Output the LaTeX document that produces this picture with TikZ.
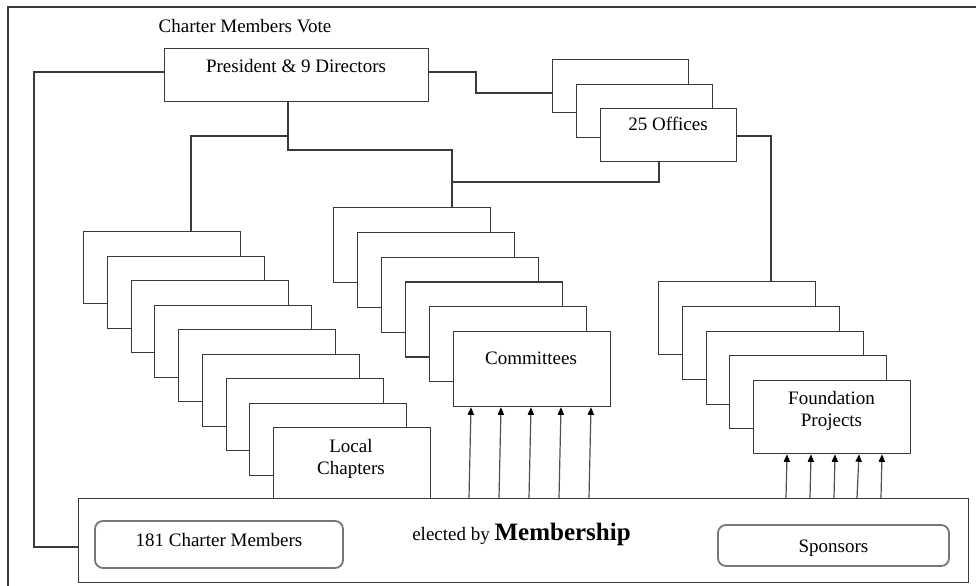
\documentclass[tikz,border=0pt]{standalone}
\usepackage{fontspec}
\setmainfont{Liberation Serif}
\usetikzlibrary{arrows.meta}
\definecolor{linec}{HTML}{3A3A3A}
\definecolor{arrc}{HTML}{505050}
\definecolor{roundc}{HTML}{777777}
\begin{document}
\begin{tikzpicture}[x=0.5pt,y=-0.5pt,line width=0.6pt,
  conn/.style={draw=linec},
  anybox/.style={draw=linec,fill=white,anchor=north west,inner sep=0pt},
  presbox/.style={anybox,minimum width=132pt,minimum height=26.5pt},
  offbox/.style={anybox,minimum width=68pt,minimum height=26.5pt},
  locbox/.style={anybox,minimum width=78.5pt,minimum height=36pt},
  combox/.style={anybox,minimum width=78.5pt,minimum height=37.5pt},
  fndbox/.style={anybox,minimum width=78.5pt,minimum height=36.5pt},
  membox/.style={anybox,minimum width=445pt,minimum height=42pt},
  rbox/.style={draw=roundc,line width=0.9pt,fill=white,rounded corners=4pt,inner sep=0pt},
  txt/.style={font=\fontsize{9.5}{11}\selectfont,inner sep=0pt,anchor=base},
  arr/.style={draw=arrc,line width=0.6pt,-{Triangle[length=3.8pt,width=3.1pt,color=black]}}]
\useasboundingbox (0,0) rectangle (976,585);
\clip (0,0) rectangle (976,585);
\fill[white] (0,0) rectangle (976,585);
% outer frame
\draw[conn] (8,600) -- (8,7) -- (990,7);
% boxes
\node[presbox] (pres) at (164,48) {};
\foreach \i in {0,1,2} \node[offbox] (off\i) at ({552+24*\i},{59+24.5*\i}) {};
\foreach \i in {0,...,8} \node[locbox] (loc\i) at ({83+23.75*\i},{231+24.5*\i}) {};
\foreach \i in {0,...,5} \node[combox] (com\i) at ({333+24*\i},{207+24.8*\i}) {};
\foreach \i in {0,...,4} \node[fndbox] (fnd\i) at ({658+23.75*\i},{281+24.75*\i}) {};
\node[membox] (memb) at (78,498) {};
\node[rbox,minimum width=124pt,minimum height=23.5pt] (cm) at (219,544.5) {};
\node[rbox,minimum width=115.5pt,minimum height=20.5pt] (sp) at (833.5,545.5) {};
% texts
\node[txt] (vote) at (245,32) {Charter Members Vote};
\node[txt] (prestxt) at (296,72) {President \& 9 Directors};
\node[txt] (offtxt) at (668,130) {25 Offices};
\node[txt] (comtxt) at (531,364) {Committees};
\node[txt] (loctxtA) at (351,452) {Local};
\node[txt] (loctxtB) at (351,474) {Chapters};
\node[txt] (fndtxtA) at (831.5,404) {Foundation};
\node[txt] (fndtxtB) at (831.5,426) {Projects};
\node[txt] (cmtxt) at (219,546) {181 Charter Members};
\node[txt] (sptxt) at (833.5,552) {Sponsors};
\node[txt] (memtxt) at (521.5,540) {elected by {\fontsize{12.5}{14}\selectfont\bfseries Membership}};
% connectors
\draw[conn] (pres.west |- 0,72) -| (34,547) -- (memb.west |- 0,547);
\draw[conn] (pres.east |- 0,72) -- (476,72) |- (off0.west |- 0,93);
\draw[conn] (off2.east |- 0,136) -| (fnd0.north -| 771,0);
\draw[conn] (pres.south -| 288,0) |- (452,150) -- (com0.north -| 452,0);
\draw[conn] (288,136) -| (loc0.north -| 191,0);
\draw[conn] (off2.south -| 659,0) |- (452,182);
% arrows
\foreach \a/\b in {469/471,499/501,529/531,559/561,589/591}
  \draw[arr] (memb.north -| \a,0) -- (com5.south -| \b,0);
\foreach \a/\b in {786/787,810/811,834/835,857/859,881/882}
  \draw[arr] (memb.north -| \a,0) -- (fnd4.south -| \b,0);
\end{tikzpicture}
\end{document}
